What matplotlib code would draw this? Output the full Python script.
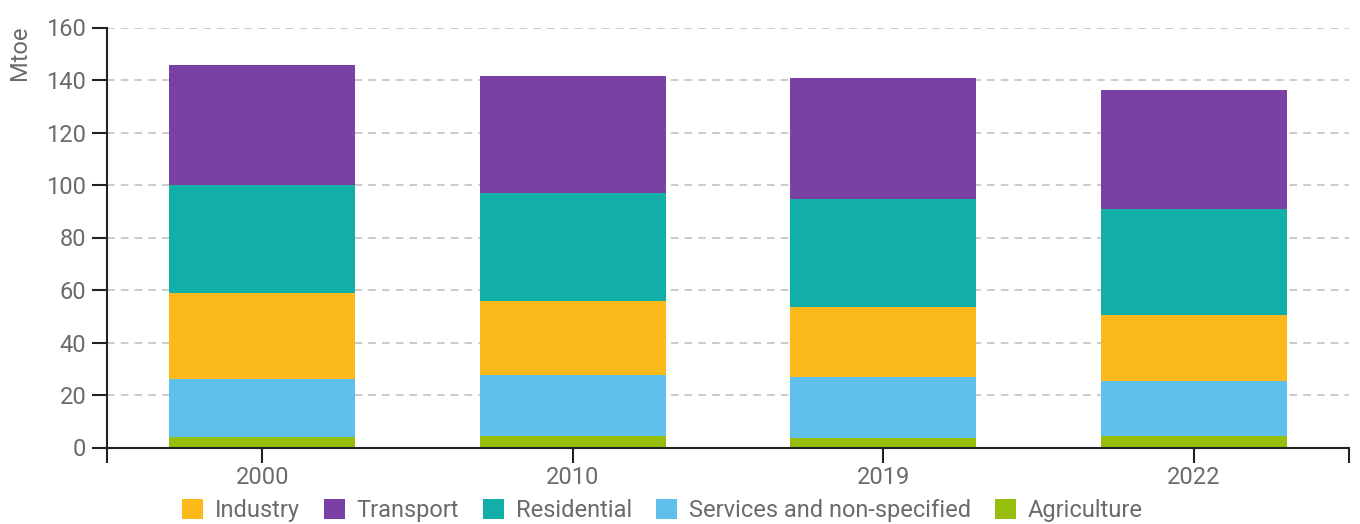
import matplotlib
matplotlib.use("Agg")
import matplotlib.pyplot as plt
from matplotlib.patches import Patch
import numpy as np

plt.rcParams['font.family'] = ['Roboto', 'DejaVu Sans']

years = ['2000', '2010', '2019', '2022']
agriculture = [3.9, 4.5, 3.7, 4.4]
services = [22.2, 23.1, 23.0, 20.8]
industry = [32.6, 28.2, 26.9, 25.4]
residential = [41.3, 41.0, 41.2, 40.1]
transport = [45.7, 44.8, 45.8, 45.4]

# stacked bottom -> top
series = [
    ('Agriculture', agriculture, '#97be0d'),
    ('Services and non-specified', services, '#5ec0eb'),
    ('Industry', industry, '#fbb91c'),
    ('Residential', residential, '#12afa9'),
    ('Transport', transport, '#7b40a3'),
]
legend_order = ['Industry', 'Transport', 'Residential', 'Services and non-specified', 'Agriculture']

text_grey = '#6b6b6b'

fig = plt.figure(figsize=(13.6, 5.24), dpi=100)
ax = fig.add_axes([107 / 1360, (524 - 447.5) / 524, (1349 - 107) / 1360, 420 / 524])

x = np.arange(len(years))
bottom = np.zeros(len(years))
colors = {}
for name, vals, col in series:
    ax.bar(x, vals, width=0.6, bottom=bottom, color=col, linewidth=0, zorder=2)
    bottom += np.array(vals)
    colors[name] = col

ax.set_xlim(-0.5, 3.5)
ax.set_ylim(0, 160)
ax.set_yticks(np.arange(0, 161, 20))
ax.set_xticks(x)
ax.set_xticklabels(years)
ax.set_xticks([-0.5, 3.5], minor=True)

ax.yaxis.grid(True, color='#bdbdbd', linestyle=(0, (5, 4)), linewidth=1.1, zorder=0)
ax.set_axisbelow(True)

for s in ['top', 'right']:
    ax.spines[s].set_visible(False)
ax.spines['left'].set_color('#222222')
ax.spines['bottom'].set_color('#222222')
ax.spines['left'].set_linewidth(1.5)
ax.spines['bottom'].set_linewidth(1.5)
ax.spines['bottom'].set_zorder(3)

ax.tick_params(axis='y', length=11, width=1.5, color='#222222', labelcolor=text_grey,
               labelsize=17, pad=4)
ax.tick_params(axis='x', which='both', length=11, width=1.5, color='#222222',
               labelcolor=text_grey, labelsize=17, pad=2)

fig.text(20 / 1360, (524 - 53) / 524, 'Mtoe', rotation=90, ha='center', va='center',
         color=text_grey, fontsize=17)

handles = [Patch(facecolor=colors[n], edgecolor='none') for n in legend_order]
fig.legend(handles, legend_order, loc='center', bbox_to_anchor=(0.487, 0.026), ncol=5,
           frameon=False, fontsize=17, labelcolor=text_grey, handlelength=0.9,
           handleheight=0.9, handletextpad=0.5, columnspacing=1.0)

fig.savefig('out.png', dpi=100)
